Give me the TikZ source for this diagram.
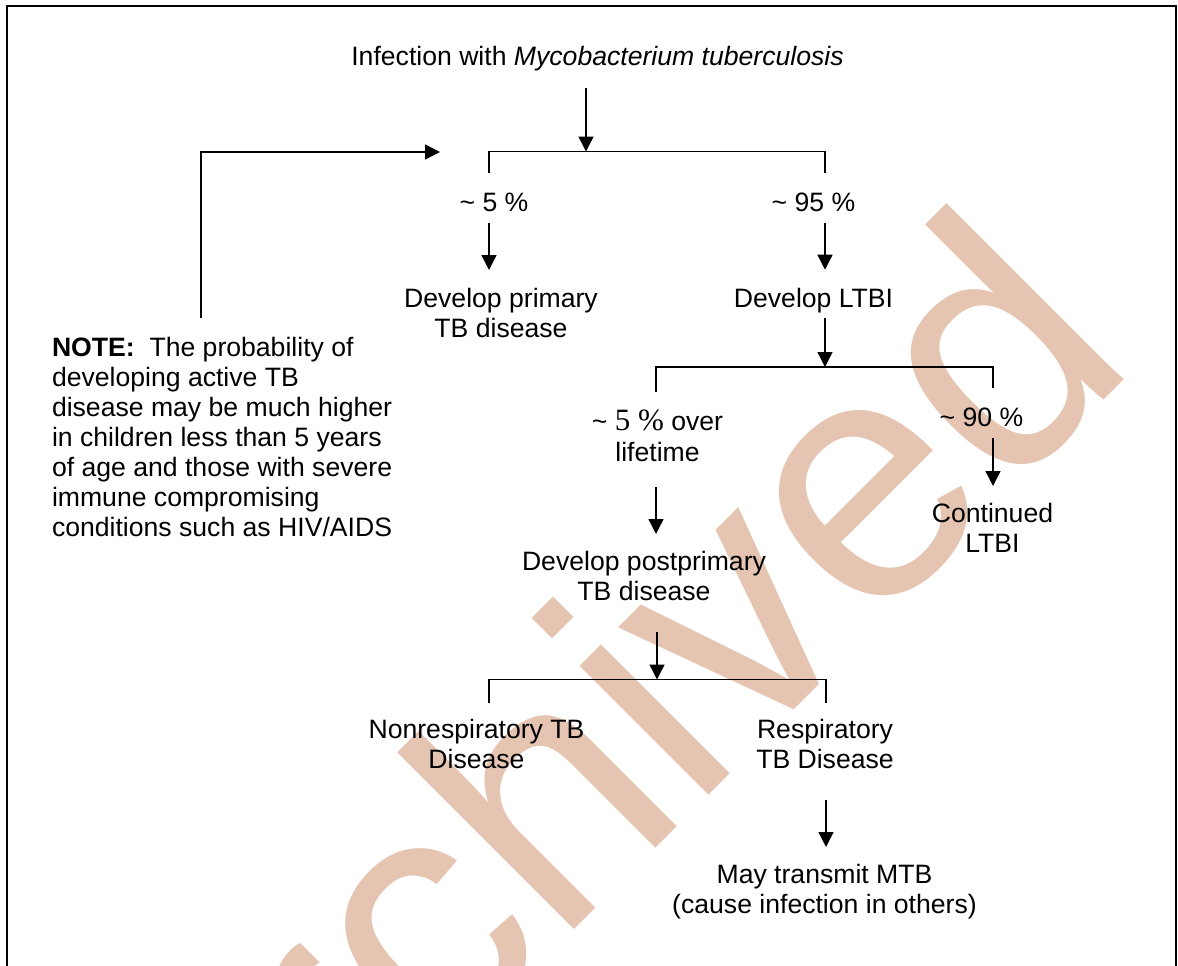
\documentclass[tikz,border=0pt]{standalone}
\usepackage{fontspec}
\setmainfont{Liberation Sans}
\newfontfamily\serifnum{Liberation Serif}
\usetikzlibrary{arrows.meta}
\definecolor{stamp}{RGB}{229,197,178}
\newcommand\bodysize{\fontsize{26.6}{30}\selectfont}
\begin{document}
\begin{tikzpicture}[x=1pt,y=-1pt,
  lbl/.style={inner sep=0pt, outer sep=0pt, align=center, font=\bodysize},
  link/.style={line width=1.4pt},
  arr/.style={link, -{Triangle[length=15pt,width=15pt]}}]
\useasboundingbox (0,0) rectangle (1178,966);

% large "Archived" stamp behind the chart
\node[anchor=base west, inner sep=0pt, rotate=45, text=stamp,
      font=\fontsize{345}{345}\selectfont] (stampword) at (191,1313) {Archived};

% page frame, open at the bottom
\draw[line width=2pt] (7,966) -- (7,6) -- (1176,6) -- (1176,966);

% text blocks
\node[lbl, anchor=base] (inf) at (597.5,66) {Infection with \textit{Mycobacterium tuberculosis}};
\node[lbl, anchor=base] (p5) at (494,211.5) {\textasciitilde{} 5 \%};
\node[lbl, anchor=base] (p95) at (813.5,211.5) {\textasciitilde{} 95 \%};
\node[lbl, anchor=north] (prim) at (501,288) {Develop primary\\TB disease};
\node[lbl, anchor=base] (ltbi) at (813.5,307) {Develop LTBI};
\node[lbl, anchor=north] (plife) at (657.5,410) {\textasciitilde{} {\serifnum\fontsize{31}{30}\selectfont 5 \%} over\\[1pt]lifetime};
\node[lbl, anchor=base] (p90) at (981.5,426.5) {\textasciitilde{} 90 \%};
\node[lbl, anchor=north] (cont) at (992.5,503) {Continued\\LTBI};
\node[lbl, anchor=north] (post) at (644,551) {Develop postprimary\\TB disease};
\node[lbl, anchor=north] (nonr) at (476.5,719) {Nonrespiratory TB\\Disease};
\node[lbl, anchor=north] (resp) at (825,719) {Respiratory\\TB Disease};
\node[lbl, anchor=north] (trans) at (824.5,864) {May transmit MTB\\(cause infection in others)};
\node[lbl, anchor=north west, align=left] (note) at (52,337)
  {\textbf{NOTE:}\ \ The probability of\\developing active TB\\disease may be much higher\\in children less than 5 years\\of age and those with severe\\immune compromising\\conditions such as HIV/AIDS};

% bracket points
\coordinate (b1l) at (489,151.5);
\coordinate (b1m) at (586,151.5);
\coordinate (b1r) at (825,151.5);
\coordinate (b2l) at (656,367);
\coordinate (b2m) at (825,367);
\coordinate (b2r) at (993,367);
\coordinate (b3l) at (489,679.5);
\coordinate (b3m) at (657,679.5);
\coordinate (b3r) at (826,679.5);
\coordinate (fbx) at (201,0);
\coordinate (fb) at (440,152);

% brackets
\draw[link] (b1l) ++(0,21) -- (b1l) -- (b1r) -- ++(0,21);
\draw[link] (b2l) ++(0,25) -- (b2l) -- (b2r) -- ++(0,21);
\draw[link] (b3l) ++(0,23.5) -- (b3l) -- (b3r) -- ++(0,23.5);

% arrows
\draw[arr, shorten <=16pt] (inf.south -| b1m) -- (b1m);
\draw[arr, shorten <=11.5pt, shorten >=18pt] (p5.south -| b1l) -- (prim.north -| b1l);
\draw[arr, shorten <=11.5pt, shorten >=18pt] (p95.south -| b1r) -- (ltbi.north -| b1r);
\draw[arr, shorten <=5.5pt] (ltbi.south -| b2m) -- (b2m);
\draw[arr, shorten <=25pt, shorten >=17pt] (plife.south -| b2l) -- (post.north -| b2l);
\draw[arr, shorten <=11.5pt, shorten >=17pt] (p90.south -| b2r) -- (cont.north -| b2r);
\draw[arr, shorten <=31pt] (post.south -| b3m) -- (b3m);
\draw[arr, shorten <=31pt, shorten >=17pt] (resp.south -| b3r) -- (trans.north -| b3r);
\draw[arr, shorten <=19pt] (note.north -| fbx) |- (fb);
\end{tikzpicture}
\end{document}
